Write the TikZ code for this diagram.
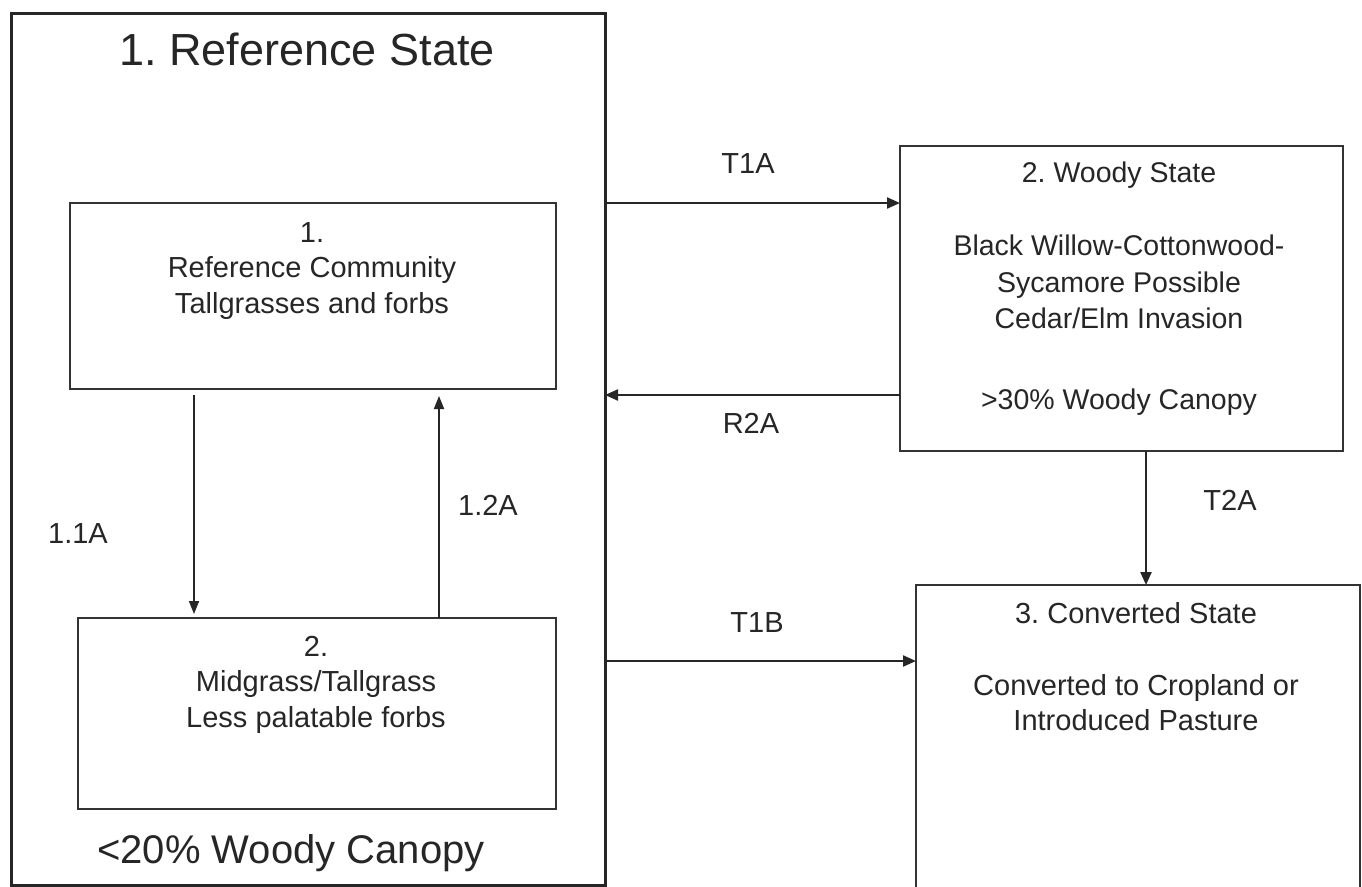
\documentclass[tikz,border=0pt]{standalone}
\usepackage{fontspec}
\setmainfont{Liberation Sans}
\usetikzlibrary{arrows.meta}
\frenchspacing
\begin{document}
\begin{tikzpicture}[x=1pt,y=-1pt,
  box/.style={draw=black!80, line width=2.2pt, rectangle, inner sep=0pt, outer sep=0pt},
  outerbox/.style={draw=black!85, line width=3pt, rectangle, inner sep=0pt, outer sep=0pt},
  txt/.style={text=black!85, inner sep=0pt, align=center},
  body/.style={font=\fontsize{29}{35.5}\selectfont},
  lbl/.style={text=black!85, inner sep=0pt, font=\fontsize{29}{35}\selectfont, anchor=base},
  arr/.style={draw=black!85, line width=2.2pt, -{Triangle[length=13pt,width=11pt]}},
  varr/.style={draw=black!85, line width=1.8pt, -{Triangle[length=13pt,width=10pt]}},
]
\clip (0,0) rectangle (1362,886);
\fill[white] (0,0) rectangle (1362,886);

% boxes
\node[outerbox, minimum width=594pt, minimum height=872pt] (ref) at (308,449) {};
\node[box, minimum width=486pt, minimum height=186pt] (b1) at (313,296) {};
\node[box, minimum width=478pt, minimum height=191pt] (b2) at (317,713.5) {};
\node[box, minimum width=443pt, minimum height=305pt] (woody) at (1121.5,298.5) {};
\node[box, minimum width=444pt, minimum height=330pt] (conv) at (1138,750) {};

% texts
\node[txt, anchor=base, font=\fontsize{45}{50}\selectfont] (reftitle) at (307,65) {1. Reference State};
\node[txt, body, anchor=north] (b1text) at (312,222) {1.\\Reference Community\\Tallgrasses and forbs};
\node[txt, body, anchor=north] (b2text) at (316,636) {2.\\Midgrass/Tallgrass\\Less palatable forbs};
\node[txt, anchor=base, font=\fontsize{40}{46}\selectfont] (refcanopy) at (291,863) {<20\% Woody Canopy};
\node[txt, anchor=north, font=\fontsize{28.5}{36.5}\selectfont] (woodytext) at (1119,162)
  {2. Woody State\\[36.5pt]Black Willow-Cottonwood-\\Sycamore Possible\\Cedar/Elm Invasion\\[44.5pt]>30\% Woody Canopy};
\node[txt, anchor=north, font=\fontsize{29}{35}\selectfont] (convtext) at (1136,602)
  {3. Converted State\\[37pt]Converted to Cropland or\\Introduced Pasture};

% connector positions
\coordinate (t1a) at (0,203);
\coordinate (r2a) at (0,395);
\coordinate (t1b) at (0,661);
\coordinate (t2a) at (1146,0);
\coordinate (a11) at (194,0);
\coordinate (a12) at (439,0);

\draw[arr] (ref.east |- t1a) -- (woody.west |- t1a);
\draw[arr] (woody.west |- r2a) -- (ref.east |- r2a);
\draw[arr] (ref.east |- t1b) -- (conv.west |- t1b);
\draw[arr] (woody.south -| t2a) -- (conv.north -| t2a);
\draw[varr, shorten <=6pt, shorten >=4pt] (b1.south -| a11) -- (b2.north -| a11);
\draw[varr, shorten >=7pt] (b2.north -| a12) -- (b1.south -| a12);

% labels
\node[lbl] (lt1a) at (748,173) {T1A};
\node[lbl] (lr2a) at (751,433) {R2A};
\node[lbl] (lt2a) at (1230,510) {T2A};
\node[lbl] (lt1b) at (757,632) {T1B};
\node[lbl] (l11a) at (78,543) {1.1A};
\node[lbl] (l12a) at (488,515) {1.2A};
\end{tikzpicture}
\end{document}
